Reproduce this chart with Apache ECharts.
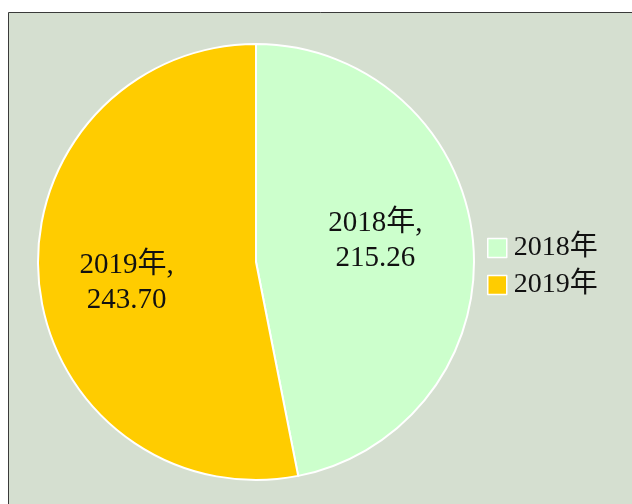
<!DOCTYPE html>
<html>
<head>
<meta charset="utf-8">
<script src="https://cdn.jsdelivr.net/npm/echarts@6/dist/echarts.min.js"></script>
<style>
  html, body { margin: 0; padding: 0; background: #fff; }
  #main { width: 632px; height: 504px; }
</style>
</head>
<body>
<div id="main"></div>
<script>
var years = ['2018年', '2019年'];
var values = [215.26, 243.70];
var colors = ['#CCFFCC', '#FFCC00'];

var fontFam = "'Liberation Serif', 'Noto Sans CJK SC', serif";

var myChart = echarts.init(document.getElementById('main'));

// nudge labels away from the default mid-radius spot
var labelShift = [[8, -10], [-18, 10]];

var option = {
    backgroundColor: '#ffffff',
    animation: false,
    graphic: [{
        type: 'rect',
        z: -10,
        silent: true,
        shape: {x: 8.5, y: 12.5, width: 700, height: 600},
        style: {fill: '#D5DFD0', stroke: '#3a3a3a', lineWidth: 1}
    }],
    legend: {
        orient: 'vertical',
        left: 487,
        top: 234,
        padding: 0,
        itemWidth: 19,
        itemHeight: 19,
        itemGap: 9,
        icon: 'rect',
        itemStyle: {borderColor: '#ffffff', borderWidth: 1.5},
        textStyle: {fontFamily: fontFam, fontSize: 28, lineHeight: 19, color: '#111', padding: [0, 0, 0, 2]},
        data: years
    },
    series: [{
        type: 'pie',
        center: [256, 262],
        radius: 218,
        startAngle: 90,
        clockwise: true,
        itemStyle: {borderColor: '#ffffff', borderWidth: 2},
        label: {
            position: 'inside',
            fontFamily: fontFam,
            fontSize: 29,
            lineHeight: 35,
            color: '#111',
            align: 'center',
            formatter: function (p) {
                return p.name + ',\n' + p.value.toFixed(2);
            }
        },
        labelLayout: function (p) {
            var s = labelShift[p.dataIndex];
            return {dx: s[0], dy: s[1]};
        },
        labelLine: {show: false},
        emphasis: {disabled: true},
        data: years.map(function (y, i) {
            return {name: y, value: values[i], itemStyle: {color: colors[i]}};
        })
    }]
};

myChart.setOption(option);
</script>
</body>
</html>
